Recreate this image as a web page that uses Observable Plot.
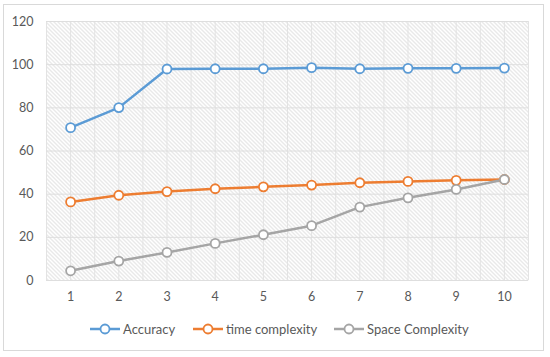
<!DOCTYPE html>
<html>
<head>
<meta charset="utf-8">
<script src="https://cdn.jsdelivr.net/npm/d3@7"></script>
<script src="https://cdn.jsdelivr.net/npm/@observablehq/plot@0.6"></script>
<style>
  body { margin: 0; background: #fff; font-family: Lato, "Noto Sans", sans-serif; }
  #wrap { position: relative; width: 550px; height: 357px; overflow: hidden; }
  #border { position: absolute; left: 3px; top: 4px; width: 541px; height: 347px; border: 1px solid #d9d9d9; box-sizing: border-box; }
  #chart { position: absolute; left: 0; top: 0; }
  #legend { position: absolute; top: 321px; left: 0; width: 550px; font-size: 13px; color: #595959; }
  .item { position: absolute; display: flex; align-items: center; white-space: nowrap; }
  .item svg { margin-right: 3px; }
</style>
</head>
<body>
<div id="wrap">
  <div id="border"></div>
  <div id="chart"></div>
  <div id="legend"></div>
</div>
<script>
const steps = [1, 2, 3, 4, 5, 6, 7, 8, 9, 10];
const accuracy = [70.8, 80.1, 98.0, 98.1, 98.1, 98.6, 98.1, 98.3, 98.3, 98.4];
const timeComplexity = [36.4, 39.5, 41.2, 42.5, 43.4, 44.2, 45.3, 45.9, 46.4, 46.8];
const spaceComplexity = [4.5, 9.0, 13.0, 17.2, 21.2, 25.4, 34.0, 38.3, 42.2, 46.8];
const seriesNames = ["Accuracy", "time complexity", "Space Complexity"];
const seriesColors = ["#5B9BD5", "#ED7D31", "#A5A5A5"];
const yTicks = [0, 20, 40, 60, 80, 100, 120];
const xGrid = d3.range(0.5, 10.51, 0.5);

const seriesValues = [accuracy, timeComplexity, spaceComplexity];
const data = seriesNames.flatMap((name, i) =>
  steps.map((s, j) => ({series: name, x: s, y: seriesValues[i][j]}))
);

const chart = Plot.plot({
  width: 550,
  height: 357,
  marginLeft: 46,
  marginRight: 22,
  marginTop: 21,
  marginBottom: 77,
  style: {fontFamily: "Lato, 'Noto Sans', sans-serif", fontSize: "12px", color: "#595959", background: "transparent"},
  x: {domain: [0.5, 10.5], ticks: steps, tickSize: 0, tickPadding: 12, tickFormat: d => d, label: null},
  y: {domain: [0, 120], ticks: yTicks, tickSize: 0, tickPadding: 13, label: null},
  color: {domain: seriesNames, range: seriesColors},
  marks: [
    Plot.frame({fill: "url(#hatch)", stroke: null}),
    Plot.ruleX(xGrid, {stroke: "#e3e3e3", strokeWidth: 1, strokeOpacity: 1}),
    Plot.ruleY(yTicks, {stroke: "#dedede", strokeWidth: 1, strokeOpacity: 1}),
    Plot.axisX({ticks: steps, tickSize: 0, tickPadding: 12, fill: "#595959", fontSize: 12.5}),
    Plot.axisY({ticks: yTicks, tickSize: 0, tickPadding: 13, fill: "#595959", fontSize: 12.5}),
    Plot.line(data, {x: "x", y: "y", z: "series", stroke: "series", strokeWidth: 2.5}),
    Plot.dot(data, {x: "x", y: "y", stroke: "series", fill: "white", r: 4.5, strokeWidth: 1.8})
  ]
});

const ns = "http://www.w3.org/2000/svg";
const defs = document.createElementNS(ns, "defs");
defs.innerHTML = `<pattern id="hatch" patternUnits="userSpaceOnUse" width="4" height="4">
  <rect width="4" height="4" fill="#ffffff"/>
  <path d="M-1,-1 L5,5 M-1,3 L1,5 M3,-1 L5,1" stroke="#d2d2d2" stroke-width="1"/>
</pattern>`;
chart.insertBefore(defs, chart.firstChild);
document.getElementById("chart").appendChild(chart);

const legend = document.getElementById("legend");
const lefts = [90, 193, 334];
seriesNames.forEach((name, i) => {
  const item = document.createElement("div");
  item.className = "item";
  item.style.left = lefts[i] + "px";
  item.innerHTML = `<svg width="30" height="14"><line x1="0" y1="7" x2="30" y2="7" stroke="${seriesColors[i]}" stroke-width="2.5"/><circle cx="15" cy="7" r="4.5" fill="white" stroke="${seriesColors[i]}" stroke-width="1.8"/></svg><span>${name}</span>`;
  legend.appendChild(item);
});
</script>
</body>
</html>
